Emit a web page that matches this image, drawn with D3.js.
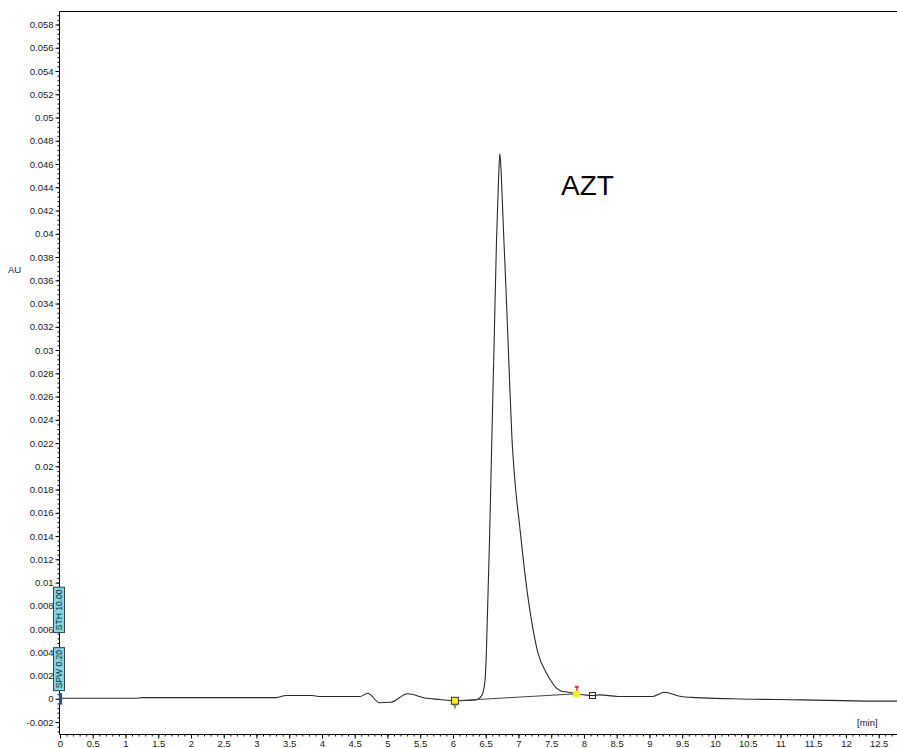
<!DOCTYPE html>
<html>
<head>
<meta charset="utf-8">
<script src="https://cdn.jsdelivr.net/npm/d3@7"></script>
<style>
  html, body { margin:0; padding:0; background:#fff; }
  svg { display:block; font-family: Arial, "Liberation Sans", sans-serif; }
  .tick text { fill:#1a1a1a; font-size:9.5px; }
</style>
</head>
<body>
<svg id="chart" width="897" height="748"></svg>
<script>
// chromatogram trace: time [min] -> AU
const times = [0, 0.2, 1.15, 1.25, 2.5, 3.3, 3.45, 3.85, 3.95, 4.5, 4.58, 4.7, 4.88, 5.05, 5.31, 5.57, 5.8, 6.03, 6.2, 6.35,
  6.44, 6.49, 6.51, 6.565, 6.6, 6.63, 6.665, 6.695, 6.716,
  6.74, 6.77, 6.81, 6.86, 6.9, 6.95, 7.02, 7.1, 7.2, 7.3, 7.43, 7.63, 7.78, 7.89,
  8.13, 8.24, 8.52, 9.05, 9.23, 9.46, 9.72, 10.27, 11.34, 12.41, 12.78];
const absorb = [0.00005, 0.00005, 0.00005, 0.0001, 0.0001, 0.0001, 0.00028, 0.00028, 0.0002, 0.0002, 0.0002, 0.00048, -0.00034, -0.0003, 0.00043, 0.00007, -0.00006, -0.00017, -0.00015, -0.0001,
  0.00028, 0.0016, 0.0039, 0.0153, 0.0239, 0.031, 0.0394, 0.0445, 0.0469,
  0.0448, 0.0405, 0.0352, 0.028, 0.0225, 0.0185, 0.0148, 0.0107, 0.0067, 0.0039, 0.0022, 0.00072, 0.00054, 0.00043,
  0.00028, 0.00034, 0.0002, 0.0002, 0.00057, 0.00022, 0.0001, 0, -0.00009, -0.0002, -0.0002];

// integration markers: peak start, peak end, next mark
const peakStart = [6.03, -0.00017];
const peakEnd   = [7.89, 0.00043];
const endMark   = [8.13, 0.00028];

// ticks
const xMajor = d3.range(0, 12.51, 0.5);
const xMinor = d3.range(0, 12.8, 0.1);
const yMajor = d3.range(-0.002, 0.0581, 0.002).map(v => +v.toFixed(3));
const yMinor = d3.range(-0.0028, 0.0591, 0.0004).map(v => +v.toFixed(4));

// event labels on the y axis
const events = [{text:'STH 10.00', lo:0.0057, hi:0.0096}, {text:'SPW 0.20', lo:0.0007, hi:0.0044}];

(function(){
  const svg = d3.select('#chart');
  const W = 897, H = 748;
  const left = 59.5, top = 11.5, bottom = 734.5;

  const x = d3.scaleLinear().domain([0, 12.78]).range([60, 897]);
  const y = d3.scaleLinear().domain([-0.00307, 0.05912]).range([bottom, top]);

  // --- frame ---------------------------------------------------------------
  svg.append('line').attr('x1', left).attr('x2', W).attr('y1', top).attr('y2', top)
    .attr('stroke', '#000');

  // --- axes ----------------------------------------------------------------
  const fmt = v => String(+v.toFixed(3));
  const gx = svg.append('g').attr('transform', `translate(0,${bottom})`);
  gx.call(d3.axisBottom(x).tickValues(xMinor).tickSize(2).tickFormat(''))
    .call(g => g.select('.domain').remove());
  gx.append('g').call(d3.axisBottom(x).tickValues(xMajor).tickSize(4).tickPadding(2).tickFormat(fmt))
    .call(g => g.select('.domain').remove());
  gx.append('line').attr('x1', left).attr('x2', W).attr('stroke', '#000');

  const gy = svg.append('g').attr('transform', `translate(${left},0)`);
  gy.call(d3.axisLeft(y).tickValues(yMinor).tickSize(2).tickFormat(''))
    .call(g => g.select('.domain').remove());
  gy.append('g').call(d3.axisLeft(y).tickValues(yMajor).tickSize(4).tickPadding(2).tickFormat(fmt))
    .call(g => g.select('.domain').remove());
  gy.append('line').attr('y1', top).attr('y2', bottom).attr('stroke', '#000');

  svg.selectAll('.tick line').attr('stroke', '#000');

  svg.append('text').attr('x', 8).attr('y', 273).attr('font-size', 9.5).attr('fill', '#1a1a1a').text('AU');
  svg.append('text').attr('x', 857).attr('y', 726).attr('font-size', 9.5).attr('fill', '#1a1a1a').text('[min]');

  // --- trace ---------------------------------------------------------------
  const pts = times.map((t, i) => [t, absorb[i]]);
  const line = d3.line().x(d => x(d[0])).y(d => y(d[1])).curve(d3.curveMonotoneX);
  svg.append('path').datum(pts).attr('d', line)
    .attr('fill', 'none').attr('stroke', '#2a2a2a').attr('stroke-width', 1.1);

  // integration baseline
  svg.append('line')
    .attr('x1', x(peakStart[0])).attr('y1', y(peakStart[1]))
    .attr('x2', x(peakEnd[0])).attr('y2', y(peakEnd[1]))
    .attr('stroke', '#444').attr('stroke-width', 1);

  // --- markers -------------------------------------------------------------
  const sx = x(peakStart[0]), sy = y(peakStart[1]);
  svg.append('path').attr('d', `M${sx-2},${sy+4}L${sx+2},${sy+4}L${sx},${sy+9}Z`).attr('fill', '#6fae5a');
  svg.append('rect').attr('x', sx-3.5).attr('y', sy-3.5).attr('width', 7).attr('height', 7)
    .attr('fill', '#f4ee1a').attr('stroke', '#333');

  const ex = x(peakEnd[0]), ey = y(peakEnd[1]);
  svg.append('path').attr('d', `M${ex-4},${ey+3}L${ex+4},${ey+3}L${ex+3},${ey-3}L${ex-3},${ey-3}Z`).attr('fill', '#f4ee1a');
  svg.append('rect').attr('x', ex-2).attr('y', ey-8).attr('width', 4).attr('height', 2).attr('fill', '#e0303a');
  svg.append('rect').attr('x', ex-0.5).attr('y', ey-7).attr('width', 1.5).attr('height', 4).attr('fill', '#e0303a');

  svg.append('rect').attr('x', x(endMark[0])-3).attr('y', y(endMark[1])-3).attr('width', 6).attr('height', 6)
    .attr('fill', 'none').attr('stroke', '#222');

  // --- event labels --------------------------------------------------------
  events.forEach(e => {
    const y0 = y(e.hi), y1 = y(e.lo);
    svg.append('rect').attr('x', 53.5).attr('y', y0).attr('width', 11).attr('height', y1 - y0)
      .attr('fill', '#84d6e2').attr('stroke', '#2b4a55');
    svg.append('text').attr('transform', `translate(62,${(y0+y1)/2}) rotate(-90)`)
      .attr('text-anchor', 'middle').attr('font-size', 8.5).attr('fill', '#1a2a30').text(e.text);
  });
  svg.append('rect').attr('x', 59).attr('y', y(0.0005)).attr('width', 3).attr('height', y(-0.0005) - y(0.0005))
    .attr('fill', '#1f4f9e');

  // --- peak name -----------------------------------------------------------
  svg.append('text').attr('x', 561).attr('y', 194.5).attr('font-size', 28).attr('fill', '#000').text('AZT');
})();
</script>
</body>
</html>
